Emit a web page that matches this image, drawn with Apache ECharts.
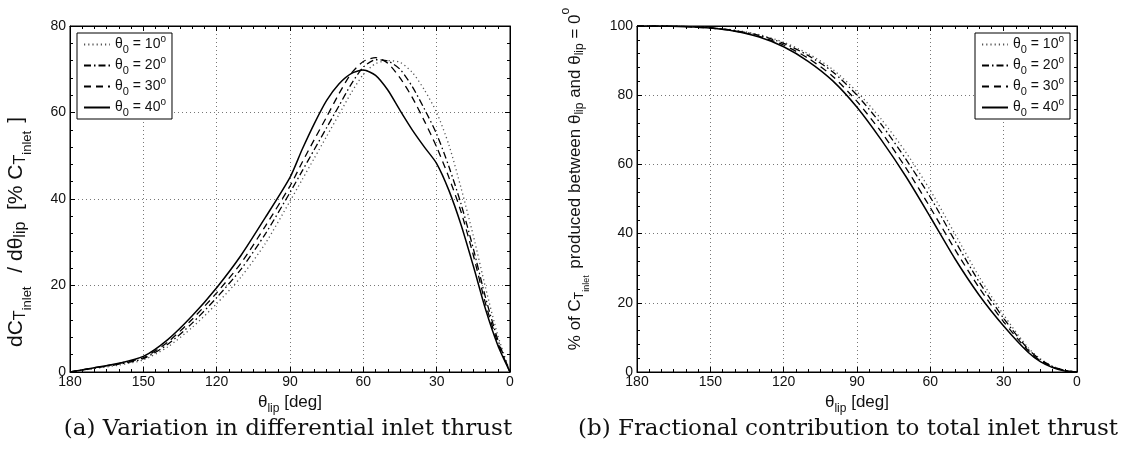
<!DOCTYPE html>
<html><head><meta charset="utf-8">
<script src="https://cdn.jsdelivr.net/npm/echarts@6/dist/echarts.min.js"></script>
<style>html,body{margin:0;padding:0;background:#fff}#c{width:1122px;height:459px}</style>
</head><body><div id="c"></div>
<script>
// ---- data: (a) differential inlet thrust, dC_T/dθ_lip [% C_T,inlet]
const thetaA = [180,170,160,150,140,130,120,110,100,90,85,80,75,70,65,60,55,50,45,40,35,30,25,20,15,10,5,0];
const dCdt10 = [0,0.8,1.6,2.8,5.8,10.3,15.8,22,29.8,39.5,44.5,49.5,54.5,59.5,64.5,68.8,71.3,72,71.6,69.3,65.2,60,52.5,42.5,31.5,19.5,8.5,0];
const dCdt20 = [0,0.9,1.8,3.1,6.4,11.3,17.2,23.8,32,41.5,46.5,51.5,56.5,61.5,66.5,70.5,72.2,71.9,70,66,60.8,55,47.5,38.8,28.5,17.2,7.5,0];
const dCdt30 = [0,1,2,3.3,6.9,12.2,18.3,25.2,33.8,43,48.5,53.8,59,64.3,69,71.8,72.7,71.4,68,63.5,58,52,45,37,27,15.8,6.8,0];
const dCdt40 = [0,1,2,3.6,7.5,13,19.5,27,35.8,45,51.5,57.5,62.8,66.6,69,69.8,68.6,65.2,60.5,56,52,48.2,42,34,24.5,14.5,6.2,0];
// ---- data: (b) cumulative % of C_T,inlet produced between θ_lip and θ_lip = 0
const thetaB = [180,170,160,150,140,130,120,110,100,90,80,70,60,50,40,30,20,15,10,5,0];
const frac10 = [100,100,99.9,99.5,98.8,97.5,95.3,92,87.5,81,73,63.5,52.5,40,27.5,16.5,7,3.8,1.7,0.5,0];
const frac20 = [100,100,99.9,99.5,98.7,97.3,95,91.5,86.8,80,71.5,61.5,50.5,38,26,15.5,6.6,3.6,1.6,0.5,0];
const frac30 = [100,100,99.8,99.4,98.6,97,94.5,90.7,85.5,78.2,69.3,59,47.5,35.5,24.3,14.5,6.2,3.3,1.5,0.4,0];
const frac40 = [100,100,99.8,99.4,98.5,96.8,94,89.8,84.2,76.5,67,56.5,44.8,32.8,22.2,13.3,5.7,3,1.3,0.3,0];
const xTicks = [0,30,60,90,120,150,180];
const names = ['θ0 = 10°','θ0 = 20°','θ0 = 30°','θ0 = 40°'];

const zip = (xs, ys) => xs.map((x, i) => [x, ys[i]]);
const SANS = '"Liberation Sans", Arial, sans-serif';
const dashes = [[1.2,3],[7,3,1.5,3],[7,5],'solid'];
const widths = [1.3,1.3,1.3,1.5];
const colors = ['#555','#000','#000','#000'];

function mkSeries(grid, ys) {
  return ys.map((d, i) => ({
    name: names[i], type: 'line', xAxisIndex: grid*2, yAxisIndex: grid*2,
    data: zip(grid === 0 ? thetaA : thetaB, d), symbol: 'none', smooth: 0.25,
    lineStyle: {color: colors[i], width: widths[i], type: dashes[i]},
    itemStyle: {color: colors[i]}, z: 3 + i
  }));
}

function xAx(grid, main) {
  return {
    type: 'value', gridIndex: grid, min: 0, max: 180, interval: 30, inverse: true,
    position: main ? 'bottom' : 'top',
    axisLine: {show: true, onZero: false, lineStyle: {color: '#000', width: 1}},
    axisTick: {show: true, inside: true, length: 5, lineStyle: {color: '#000'}},
    minorTick: {show: true, splitNumber: 6, length: 3, lineStyle: {color: '#000'}},
    axisLabel: {show: main, color: '#111', fontFamily: SANS, fontSize: 14, margin: 3,
      formatter: v => xTicks.includes(v) ? String(v) : ''},
    splitLine: {show: main, lineStyle: {color: '#777', type: [1,3], width: 1}},
    name: main ? '{t|θ}{s|lip}{t| [deg]}' : '',
    nameLocation: 'middle', nameGap: 18,
    nameTextStyle: {rich: {
      t: {fontFamily: SANS, fontSize: 17, color: '#111', lineHeight: 24},
      s: {fontFamily: SANS, fontSize: 12, color: '#111', verticalAlign: 'bottom'}
    }}
  };
}
function yAx(grid, main, max, name) {
  const big = grid === 0 ? 21 : 17;
  return {
    type: 'value', gridIndex: grid, min: 0, max: max, interval: 20,
    position: main ? 'left' : 'right',
    axisLine: {show: true, onZero: false, lineStyle: {color: '#000', width: 1}},
    axisTick: {show: true, inside: true, length: 5, lineStyle: {color: '#000'}},
    minorTick: {show: true, splitNumber: 5, length: 3, lineStyle: {color: '#000'}},
    axisLabel: {show: main, color: '#111', fontFamily: SANS, fontSize: 14, margin: 4},
    splitLine: {show: main, lineStyle: {color: '#777', type: [1,3], width: 1}},
    name: main ? name : '', nameLocation: 'middle', nameRotate: 90,
    nameGap: grid === 0 ? 36 : 46,
    nameTextStyle: {
      padding: grid === 0 ? [0, 66, 0, 0] : [0, 0, 0, 40],
      rich: {
        t: {fontFamily: SANS, fontSize: big, color: '#111', lineHeight: big + 14},
        s: {fontFamily: SANS, fontSize: big - 5, color: '#111', verticalAlign: 'bottom', padding: [0,0,5,0]},
        ss: {fontFamily: SANS, fontSize: big - 8, color: '#111', verticalAlign: 'bottom', padding: [0, grid === 0 ? 8 : 2, 0, 0]},
        p: {fontFamily: SANS, fontSize: big - 5, color: '#111', verticalAlign: 'top'}
      }
    }
  };
}

const legendRich = {
  t: {fontFamily: SANS, fontSize: 14, color: '#111', lineHeight: 21},
  s: {fontFamily: SANS, fontSize: 11, color: '#111', verticalAlign: 'bottom'},
  p: {fontFamily: SANS, fontSize: 10, color: '#111', verticalAlign: 'top'}
};
const legendFmt = n => { const v = n.match(/= (\d+)/)[1]; return '{t|θ}{s|0}{t| = ' + v + '}{p|o}'; };
function legend(pos) {
  return Object.assign({
    orient: 'vertical', data: names, formatter: legendFmt,
    itemWidth: 26, itemHeight: 10, itemGap: 0, padding: [1, 6, 1, 6],
    borderColor: '#000', borderWidth: 1, backgroundColor: '#fff', borderRadius: 0,
    itemStyle: {opacity: 0},
    textStyle: {rich: legendRich}, selectedMode: false
  }, pos);
}

const yNameA = '{t|dC}{s|T}{ss|inlet}{t| / dθ}{s|lip}{t|  [% C}{s|T}{ss|inlet}{t|]}';
const yNameB = '{t|% of C}{s|T}{ss|inlet}{t| produced between θ}{s|lip}{t| and θ}{s|lip}{t| = 0}{p|o}';

const chart = echarts.init(document.getElementById('c'), null, {renderer: 'canvas'});
chart.setOption({
  animation: false,
  backgroundColor: '#fff',
  title: [
    {text: '(a) Variation in differential inlet thrust', left: 283, textAlign: 'center', top: 413,
      textStyle: {fontFamily: '"DejaVu Serif", serif', fontWeight: 'normal', fontSize: 23, color: '#111'}},
    {text: '(b) Fractional contribution to total inlet thrust', left: 843, textAlign: 'center', top: 413,
      textStyle: {fontFamily: '"DejaVu Serif", serif', fontWeight: 'normal', fontSize: 23, color: '#111'}}
  ],
  grid: [
    {left: 70, right: 612, top: 26, bottom: 87, show: true, borderColor: '#000', borderWidth: 1},
    {left: 637, right: 45, top: 26, bottom: 87, show: true, borderColor: '#000', borderWidth: 1}
  ],
  legend: [legend({left: 77, top: 33}), legend({right: 52, top: 33})],
  xAxis: [xAx(0, true), xAx(0, false), xAx(1, true), xAx(1, false)],
  yAxis: [yAx(0, true, 80, yNameA), yAx(0, false, 80, ''), yAx(1, true, 100, yNameB), yAx(1, false, 100, '')],
  series: mkSeries(0, [dCdt10, dCdt20, dCdt30, dCdt40]).concat(mkSeries(1, [frac10, frac20, frac30, frac40]))
});
</script></body></html>
